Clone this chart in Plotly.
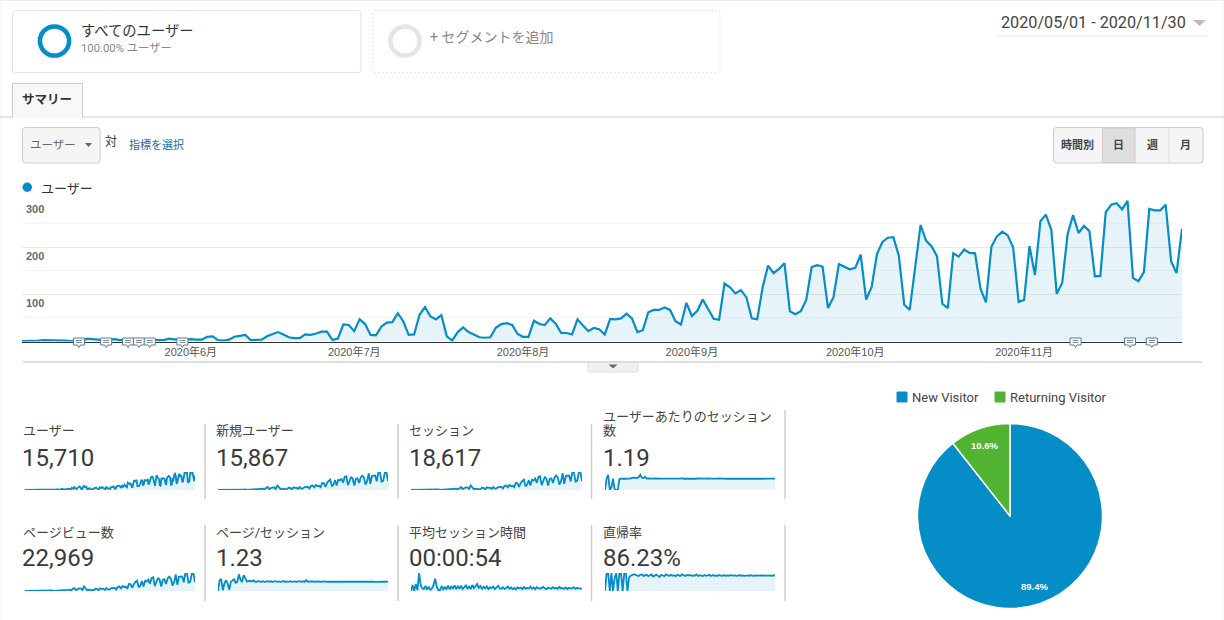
import plotly.graph_objects as go
import pandas as pd
import math

W = 1224
H = 620
BLUE = "#058dc7"
GREEN = "#50b432"
FILL = "rgba(5,141,199,0.1)"
JP = "Roboto, 'Noto Sans CJK JP', sans-serif"
ARIAL = "'Liberation Sans', Arial, sans-serif"

# daily users
USERS = [
    1, 1, 2, 2, 3, 3, 3, 2, 2, 1,
    2, 2, 6, 5, 4, 3, 4, 5, 3, 3,
    3, 3, 3, 4, 3, 3, 3, 6, 4, 3,
    4, 5, 4, 4, 10, 11, 3, 2, 4, 10,
    12, 14, 3, 3, 4, 11, 15, 20, 15, 9,
    7, 7, 15, 14, 17, 21, 21, 3, 6, 36,
    35, 22, 47, 37, 14, 13, 32, 40, 41, 60,
    43, 14, 15, 57, 73, 53, 47, 56, 11, 2,
    20, 30, 20, 15, 9, 8, 9, 29, 37, 39,
    35, 16, 10, 10, 44, 37, 35, 49, 38, 18,
    18, 15, 47, 34, 22, 29, 26, 15, 48, 47,
    49, 59, 49, 20, 24, 62, 67, 67, 72, 67,
    43, 36, 82, 54, 65, 89, 68, 48, 46, 123,
    115, 102, 109, 94, 49, 47, 115, 161, 145, 154,
    166, 64, 58, 64, 88, 158, 162, 159, 71, 94,
    164, 158, 153, 156, 184, 89, 115, 186, 211, 220,
    221, 182, 78, 67, 158, 247, 214, 202, 181, 80,
    71, 187, 180, 195, 188, 187, 112, 83, 201, 223,
    233, 225, 199, 84, 88, 202, 141, 255, 269, 237,
    101, 124, 228, 268, 230, 245, 234, 138, 139, 274,
    290, 293, 280, 298, 135, 128, 147, 281, 278, 278,
    290, 170, 145, 239,
]
MONTH_STARTS = ["2020-06-01", "2020-07-01", "2020-08-01", "2020-09-01", "2020-10-01", "2020-11-01"]
MONTH_LABELS = ["2020年6月", "2020年7月", "2020年8月", "2020年9月", "2020年10月", "2020年11月"]
Y_LABELS = [100, 200, 300]
NOTE_DAYS = [10, 15, 19, 21, 23, 29, 193, 203, 207]

# sparklines, roughly every second day
NEW_USERS = [1,2,3,3,2,2,6,4,4,3,3,3,3,4,4,4,4,10,3,4,12,3,4,15,15,7,15,17,21,6,36,47,14,33,42,44,15,74,48,11,21,20,9,9,38,36,10,45,36,38,18,48,22,26,49,50,50,24,68,73,44,84,66,69,47,118,111,50,118,148,170,59,90,165,72,167,156,188,117,215,225,79,161,218,185,72,184,192,114,205,237,203,90,144,275,103,233,235,239,142,296,286,138,150,284,296,148]
SESSIONS = [1,2,4,4,2,2,7,5,5,4,4,4,4,5,5,5,5,12,4,5,14,4,5,18,18,8,18,20,25,7,42,56,17,38,49,51,18,87,56,13,24,24,11,11,44,42,12,52,42,45,21,56,26,31,57,58,58,29,80,86,51,98,77,81,55,137,130,58,137,173,198,69,105,193,84,195,182,219,137,251,263,93,188,255,215,84,214,224,133,239,277,237,105,168,320,120,271,274,278,165,345,333,161,175,331,345,173]
SESSIONS_PER_USER = [0,1.2,1.6,0,0.3,1.2,0.1,0,0,1.15,1.2,1.18,1.19,1.18,1.2,1.18,1.2,1.3,1.3,1.25,1.25,1.35,1.6,1.3,1.25,1.4,1.2,1.22,1.2,1.24,1.19,1.22,1.2,1.18,1.22,1.19,1.2,1.18,1.21,1.19,1.2,1.18,1.22,1.19,1.2,1.18,1.21,1.19,1.25,1.18,1.2,1.19,1.21,1.18,1.2,1.19,1.2,1.18,1.21,1.19,1.2,1.18,1.19,1.21,1.18,1.2,1.19,1.2,1.18,1.2,1.19,1.21,1.18,1.19,1.2,1.18,1.2,1.19,1.2,1.18,1.19,1.2,1.18,1.2,1.19,1.2,1.21,1.19,1.18,1.2,1.19,1.2,1.19,1.18,1.2,1.19,1.2,1.19,1.18,1.2,1.19,1.2,1.19,1.19,1.2,1.19,1.19]
PAGEVIEWS = [2,3,5,5,3,3,9,6,6,4,5,5,5,6,6,6,6,15,5,6,18,5,6,22,23,10,22,25,31,9,52,69,21,47,60,63,22,107,69,16,29,29,13,13,54,51,15,64,51,56,27,69,32,38,70,72,72,35,98,105,63,120,95,99,67,168,159,72,168,212,243,85,129,237,104,240,224,269,168,308,323,114,231,313,265,104,263,275,164,294,340,291,129,206,393,148,333,336,342,203,424,409,197,215,406,424,212]
PAGES_PER_SESSION = [0,1.4,1.6,0.1,1.0,1.45,1.0,0.15,1.2,1.35,1.55,1.1,1.2,2.2,1.5,1.2,2.1,1.7,1.25,1.3,1.35,1.25,1.4,1.25,1.2,1.3,1.25,1.2,1.3,1.2,1.25,1.3,1.22,1.28,1.2,1.25,1.3,1.22,1.27,1.2,1.25,1.3,1.2,1.27,1.22,1.3,1.2,1.25,1.28,1.2,1.25,1.3,1.22,1.28,1.2,1.45,1.22,1.25,1.2,1.28,1.22,1.25,1.2,1.27,1.22,1.25,1.2,1.26,1.22,1.25,1.2,1.24,1.22,1.26,1.2,1.24,1.22,1.25,1.2,1.24,1.22,1.25,1.21,1.24,1.22,1.25,1.21,1.24,1.22,1.25,1.21,1.23,1.22,1.24,1.21,1.23,1.22,1.24,1.21,1.23,1.22,1.24,1.22,1.23,1.22,1.24,1.23]
SESSION_SECONDS = [0,97,5,110,15,286,97,43,30,80,20,70,20,40,97,194,60,15,15,80,25,60,30,85,25,70,40,90,30,75,35,85,30,65,90,40,70,30,95,45,70,110,50,80,35,65,40,75,30,60,45,70,30,55,85,40,35,60,30,50,70,35,55,30,50,25,60,40,55,30,65,35,50,40,70,35,55,30,60,45,35,50,65,40,30,55,45,35,60,40,50,35,65,40,45,35,55,30,50,40,45,60,35,50,40,45,38]
BOUNCE_RATE = [0,100,100,0,100,0,70,100,0,100,100,0,100,100,0,75,85,90,93,90,85,83,90,92,84,88,90,82,86,92,80,88,91,84,78,90,86,82,92,87,83,90,85,88,81,90,87,84,92,86,83,89,86,90,84,87,85,92,84,88,86,83,89,85,87,90,84,88,85,87,83,89,86,84,88,85,87,84,88,86,85,87,84,86,88,85,87,84,86,87,85,88,84,86,87,85,86,84,87,86,85,87,85,86,84,87,86]

KPI_LABELS = ["ユーザー", "新規ユーザー", "セッション", "ユーザーあたりのセッション<br>数",
              "ページビュー数", "ページ/セッション", "平均セッション時間", "直帰率"]
KPI_VALUES = ["15,710", "15,867", "18,617", "1.19", "22,969", "1.23", "00:00:54", "86.23%"]
KPI_SERIES = [USERS, NEW_USERS, SESSIONS, SESSIONS_PER_USER, PAGEVIEWS, PAGES_PER_SESSION, SESSION_SECONDS, BOUNCE_RATE]
KPI_TOPS = [298, 296, 345, 1.89, 424, 2.38, 286, 100]

PIE_LABELS = ["New Visitor", "Returning Visitor"]
PIE_VALUES = [89.4, 10.6]
PIE_COLORS = [BLUE, GREEN]


def fx(x):
    return x / W


def fy(y):
    return 1 - y / H


shapes = []
notes = []


def text(x, y, s, size=12, color="#333333", anchor="left", family=JP, weight="normal"):
    # annotations sit about a pixel right of the given x
    if anchor == "left":
        x = x - 1.2
    notes.append(dict(xref="paper", yref="paper", x=fx(x), y=fy(y), text=s, showarrow=False,
                      xanchor=anchor, yanchor="middle", align="left", borderpad=0,
                      font=dict(size=size, color=color, family=family, weight=weight)))


def rect(x0, y0, x1, y1, line="#dddddd", fill="rgba(0,0,0,0)", dash="solid", width=1):
    shapes.append(dict(type="rect", xref="paper", yref="paper", x0=fx(x0), x1=fx(x1), y0=fy(y0), y1=fy(y1),
                       line=dict(color=line, width=width, dash=dash), fillcolor=fill))


def hline(x0, x1, y, color="#dddddd", width=1):
    shapes.append(dict(type="line", xref="paper", yref="paper", x0=fx(x0), x1=fx(x1), y0=fy(y), y1=fy(y),
                       line=dict(color=color, width=width)))


def vline(x, y0, y1, color="#cccccc", width=1):
    shapes.append(dict(type="line", xref="paper", yref="paper", x0=fx(x), x1=fx(x), y0=fy(y0), y1=fy(y1),
                       line=dict(color=color, width=width)))


def ring(cx, cy, r, color, width=5):
    shapes.append(dict(type="circle", xref="paper", yref="paper", x0=fx(cx - r), x1=fx(cx + r), y0=fy(cy + r), y1=fy(cy - r),
                       line=dict(color=color, width=width), fillcolor="rgba(0,0,0,0)"))


def rounded(x0, y0, x1, y1, r=3, line="#dddddd", fill="white", dash="solid"):
    p = (f"M {fx(x0 + r)} {fy(y0)} L {fx(x1 - r)} {fy(y0)} Q {fx(x1)} {fy(y0)} {fx(x1)} {fy(y0 + r)} "
         f"L {fx(x1)} {fy(y1 - r)} Q {fx(x1)} {fy(y1)} {fx(x1 - r)} {fy(y1)} "
         f"L {fx(x0 + r)} {fy(y1)} Q {fx(x0)} {fy(y1)} {fx(x0)} {fy(y1 - r)} "
         f"L {fx(x0)} {fy(y0 + r)} Q {fx(x0)} {fy(y0)} {fx(x0 + r)} {fy(y0)} Z")
    shapes.append(dict(type="path", xref="paper", yref="paper", path=p, fillcolor=fill,
                       line=dict(color=line, width=1, dash=dash), layer="below"))


def triangle(x0, x1, y0, y1, color):
    p = f"M {fx(x0)} {fy(y0)} L {fx(x1)} {fy(y0)} L {fx((x0 + x1) / 2)} {fy(y1)} Z"
    shapes.append(dict(type="path", xref="paper", yref="paper", path=p, fillcolor=color, line=dict(width=0)))


fig = go.Figure()
dates = pd.date_range("2020-05-01", "2020-11-30", freq="D")

# big users chart
fig.add_trace(go.Scatter(x=dates, y=USERS, mode="lines", fill="tozeroy", fillcolor=FILL,
                         line=dict(color=BLUE, width=2.2), hoverinfo="skip", showlegend=False))

layout_axes = dict(
    xaxis=dict(domain=[fx(22), fx(1182)], range=[dates[0], dates[-1]], tickvals=MONTH_STARTS, ticktext=MONTH_LABELS,
               showgrid=False, zeroline=False, showline=True, linecolor="#333333", linewidth=1, ticks="",
               tickfont=dict(size=11, color="#555555", family=ARIAL + ", 'Noto Sans CJK JP'"), anchor="y"),
    yaxis=dict(domain=[fy(341.5), fy(200)], range=[0, 300], tickvals=[0, 100, 200, 300], showticklabels=False,
               gridcolor="#ebebeb", gridwidth=1, zeroline=False, ticks="", anchor="x",
               minor=dict(tickvals=[50, 150, 250], showgrid=True, gridcolor="#f5f5f5", gridwidth=1, ticks="")),
)

for v in Y_LABELS:
    notes.append(dict(xref="x", yref="y", x=dates[0], y=v, text=str(v), showarrow=False, xanchor="left",
                      yanchor="middle", xshift=1.5, yshift=-9,
                      font=dict(size=11, color="#6a6a6a", family=ARIAL, weight="bold")))

# comment bubbles on the baseline, yref paper so they are not cut at the axis
for d in NOTE_DAYS:
    common = dict(xref="x", yref="paper", xsizemode="pixel", ysizemode="pixel", xanchor=dates[d], yanchor=fy(341.5))
    shapes.append(dict(type="path", path="M -3 3.5 L 8 3.5 L 8 -3.5 L 4 -3.5 L 2.5 -6 L 1 -3.5 L -3 -3.5 Z",
                       fillcolor="white", line=dict(color="#4f7ea6", width=1), **common))
    shapes.append(dict(type="path", path="M -0.5 1 L 5.5 1 M -0.5 -1 L 5.5 -1",
                       line=dict(color="#888888", width=1), **common))

# small metric tiles
col_x = [(24.5, 195), (218, 388), (411, 582), (605, 775)]
row_y = [(472, 490), (573, 591)]
sep_x = [205, 398, 591.5, 785]
for i, series in enumerate(KPI_SERIES):
    row = i // 4
    col = i % 4
    ax = str(i + 2)
    step = (dates[-1] - dates[0]) / (len(series) - 1)
    xs = [dates[0] + step * k for k in range(len(series))]
    fig.add_trace(go.Scatter(x=xs, y=series, xaxis="x" + ax, yaxis="y" + ax, mode="lines", fill="tozeroy", fillcolor=FILL,
                             line=dict(color=BLUE, width=1.8), hoverinfo="skip", showlegend=False))
    layout_axes["xaxis" + ax] = dict(domain=[fx(col_x[col][0]), fx(col_x[col][1])], range=[dates[0], dates[-1]], visible=False,
                                     anchor="y" + ax)
    layout_axes["yaxis" + ax] = dict(domain=[fy(row_y[row][1]), fy(row_y[row][0])], range=[0, KPI_TOPS[i]], visible=False,
                                     anchor="x" + ax)
    lab_x = col_x[col][0] - 1.5
    if row == 0:
        lab_y, val_y = 430, 457.5
        top = 410 if col == 3 else 424
        bottom = 499
    else:
        lab_y, val_y = 532, 557.5
        top = 525
        bottom = 601
    parts = KPI_LABELS[i].split("<br>")
    if len(parts) == 2:
        text(lab_x, 416, parts[0], size=13, color="#444444")
        text(lab_x, 430, parts[1], size=13, color="#444444")
    else:
        text(lab_x, lab_y, parts[0], size=13, color="#444444")
    text(lab_x - 0.5, val_y, KPI_VALUES[i], size=24, color="#3a3a3a", family="Roboto, sans-serif")
    vline(sep_x[col], top, bottom, color="#cccccc", width=1.5)

# pie
fig.add_trace(go.Pie(labels=PIE_LABELS, values=PIE_VALUES, sort=False, direction="clockwise", rotation=0,
                     marker=dict(colors=PIE_COLORS, line=dict(color="white", width=1.5)), textinfo="none",
                     domain=dict(x=[fx(917.5), fx(1102.5)], y=[fy(608.5), fy(423.5)]), hoverinfo="skip", showlegend=False))
seen = 0
for v in PIE_VALUES:
    a = math.radians((seen + v / 2) / sum(PIE_VALUES) * 360)
    seen += v
    text(1009.5 + 75 * math.sin(a), 516 - 75 * math.cos(a), f"{v}%", size=9.5, color="white", anchor="center", family=ARIAL, weight="bold")
rect(897, 392, 907, 402, line=BLUE, fill=BLUE)
text(912, 397, PIE_LABELS[0], size=13, color="#444444", family="Roboto, sans-serif")
rect(995, 392, 1005, 402, line=GREEN, fill=GREEN)
text(1010, 397, PIE_LABELS[1], size=13, color="#444444", family="Roboto, sans-serif")

# page furniture
hline(0, W, 0.5, color="#eeeeee")
vline(1, 0, H, color="#f2f2f2")
vline(1223, 0, H, color="#f2f2f2")

rounded(12.5, 10.5, 361, 72.5, line="#e3e3e3")
ring(54.5, 41, 14.6, BLUE, width=4.5)
text(81, 31.5, "すべてのユーザー", size=14.3, color="#333333")
text(81, 48.5, "100.00% ユーザー", size=11.3, color="#888888")
rounded(372.5, 10.5, 720, 72.5, line="#e3e3e3", dash="2px,2px")
ring(405, 41, 14.6, "#e5e5e5", width=4.5)
text(430, 37, "+ セグメントを追加", size=14, color="#888888")

text(1001, 22, "2020/05/01 - 2020/11/30", size=16.2, color="#444444", family="Roboto, sans-serif")
triangle(1193, 1206, 20, 26, "#bbbbbb")
hline(998, 1208, 36, color="#e8e8e8")

hline(0, W, 117, color="#cccccc")
shapes.append(dict(type="path", xref="paper", yref="paper",
                   path=f"M {fx(12.5)} {fy(117.5)} L {fx(12.5)} {fy(83.5)} L {fx(82.5)} {fy(83.5)} L {fx(82.5)} {fy(117.5)} Z",
                   fillcolor="#f8f8f8", line=dict(color="#cccccc", width=1)))
hline(13, 82, 117.5, color="#f8f8f8", width=1.5)
text(22, 99, "<b>サマリー</b>", size=12.5, color="#333333")

rounded(22.5, 127.5, 100, 163, line="#cccccc", fill="#f5f5f5")
text(30, 145, "ユーザー", size=11.5, color="#666666")
triangle(85, 92, 143, 147, "#666666")
text(105, 142, "対", size=12, color="#333333")
text(129, 145, "指標を選択", size=11, color="#1f6aa5")

rounded(1053.5, 127.5, 1203, 163, line="#cccccc", fill="#f5f5f5")
rect(1102.5, 128, 1135, 162.5, line="#cccccc", fill="#dedede")
vline(1169, 128, 162.5, color="#dddddd")
for bx, lab in zip([1077, 1118.5, 1152, 1185.5], ["時間別", "日", "週", "月"]):
    text(bx, 145, lab, size=11, color="#444444", anchor="center", weight="bold")

shapes.append(dict(type="circle", xref="paper", yref="paper", x0=fx(22.5), x1=fx(32), y0=fy(192), y1=fy(182.5),
                   fillcolor=BLUE, line=dict(width=0)))
text(41, 188, "ユーザー", size=13, color="#333333")

hline(23, 1202, 362, color="#dddddd", width=2)
rounded(588, 362, 638, 372, r=2, line="#dddddd", fill="#f0f0f0")
triangle(608.5, 617.5, 364.5, 368.5, "#666666")

fig.update_layout(
    width=W, height=H, margin=dict(l=0, r=0, t=0, b=0), paper_bgcolor="white", plot_bgcolor="white",
    showlegend=False, shapes=shapes, annotations=notes, **layout_axes,
)

fig.write_html("out.html", post_script="document.body.style.margin='0';document.body.style.overflow='hidden';", config=dict(displayModeBar=False))
